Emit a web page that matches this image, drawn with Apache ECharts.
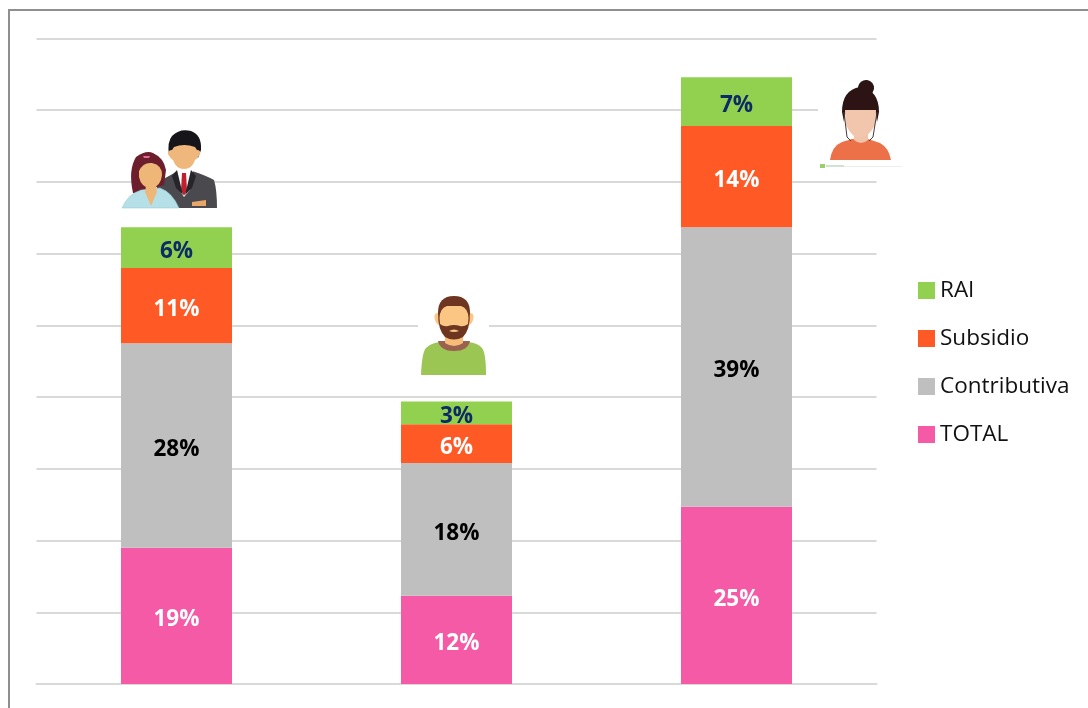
<!DOCTYPE html>
<html><head><meta charset="utf-8">
<style>html,body{margin:0;padding:0;background:#fff}#c{width:1088px;height:708px}</style>
<script src="https://cdn.jsdelivr.net/npm/echarts@6/dist/echarts.min.js"></script>
</head><body><div id="c"></div>
<script>
const categories = ['Total', 'Hombres', 'Mujeres'];
const totalValues = [19.0, 12.3, 24.7];
const contributivaValues = [28.5, 18.5, 39.0];
const subsidioValues = [10.5, 5.4, 14.1];
const raiValues = [5.7, 3.2, 6.8];
const totalLabels = ['19%', '12%', '25%'];
const contributivaLabels = ['28%', '18%', '39%'];
const subsidioLabels = ['11%', '6%', '14%'];
const raiLabels = ['6%', '3%', '7%'];
const FONT = '"Open Sans", sans-serif';

function mk(name, values, labels, color, labelColor) {
  return {
    name, type: 'bar', stack: 'a', data: values, barWidth: 111, color,
    label: {
      show: true, position: 'inside', offset: [0, 4],
      formatter: p => labels[p.dataIndex],
      color: labelColor, fontFamily: FONT, fontWeight: 'bold', fontSize: 22.5
    }
  };
}
const P = (d, fill, extra) => `<path d="${d}" fill="${fill}" ${extra || ''}/>`;
const R = (x, y, w, h, fill) => `<rect x="${x}" y="${y}" width="${w}" height="${h}" fill="${fill}"/>`;

const iconCouple = [
  // man
  P('M157 208 L157 182 Q170 176 177 171 L192 171 Q205 175 214 180 Q217 190 217 208 Z', '#4a4a4e'),
  P('M176 171 L193 171 L190 190 L184 197 L179 190 Z', '#ffffff'),
  P('M182 173 L186 173 L187 190 L184 196 L181 190 Z', '#c0202c'),
  P('M172 176 L177 170 L183 195 L176 188 Z', '#26262a'),
  P('M196 176 L191 170 L185 195 L192 188 Z', '#26262a'),
  P('M192 202 L206 200 L206 206 L192 206 Z', '#e8a66a'),
  P('M169 155 Q167 142 172 136 Q180 128 191 131 Q202 135 201 150 L198 158 L194 150 L175 150 L172 158 Z', '#15151a'),
  P('M168 154 Q168 150 172 150 L174 147 Q184 143 195 147 L197 150 Q201 150 200 154 Q198 158 195 160 Q192 169 184 169 Q176 169 173 160 Q170 158 168 154 Z', '#f0b77c'),
  // woman
  P('M133 193 Q128 170 136 157 Q146 150 153 153 Q164 158 166 170 L164 185 L146 190 L138 193 Z', '#6d1e2c'),
  P('M122 208 Q128 194 141 190 L160 188 Q172 192 179 208 Z', '#b6e0e8', 'stroke="#8fc4cf" stroke-width="0.5"'),
  P('M146 186 L156 186 L157 192 L151 206 L145 192 Z', '#eeb778'),
  P('M139 171 Q143 162 152 163 Q162 165 162 175 Q161 186 151 189 Q141 187 139 177 Z', '#eeb778'),
  P('M143 156 L150 156 L149 158 L144 158 Z', '#e26a9c')
];
const iconMan = [
  R(418, 296, 71, 80, '#ffffff'),
  P('M421 375 Q422 352 426 348 Q431 343 440 342 L468 342 Q478 343 482 348 Q486 353 486 375 Z', '#9bc653'),
  P('M438 341 L470 341 Q468 351 454 351 Q440 351 438 341 Z', '#9b6150'),
  P('M445 332 L463 332 L463 343 Q454 349 445 343 Z', '#f6bc78'),
  P('M438 313 Q433 313 435 320 Q437 326 440 325 Z', '#fbc583'),
  P('M470 313 Q475 313 473 320 Q471 326 468 325 Z', '#fbc583'),
  P('M438 313 Q438 296 454 296 Q470 296 470 313 Q470 330 463 337 Q454 342 445 337 Q438 330 438 313 Z', '#6e3520'),
  P('M439.5 318 Q440 308 447 306 L461 306 Q468 308 468.5 318 L468 324 Q464 327 460 326 Q454 324 448 326 Q444 327 440 324 Z', '#fbc583'),
  P('M449 331 Q454 328 459 331 Q454 333 449 331 Z', '#fbc583')
];
const iconWoman = [
  R(818, 78, 84, 94, '#ffffff'),
  P('M830 160 Q832 146 842 142 L852 139 L868 139 L880 143 Q889 148 891 160 Z', '#ec7148'),
  P('M854 128 L868 128 L868 140 Q861 146 854 140 Z', '#f0c4aa'),
  P('M858 87 A8 8 0 1 1 874 89 L872 94 L858 93 Z', '#2c1414'),
  P('M842 112 Q842 90 860 87 Q879 90 879 112 L877 122 L875 110 L846 110 L844 122 Z', '#2c1414'),
  P('M845 110 L876 110 L875 125 Q868 138 860 138 Q852 138 846 125 Z', '#f2c6ad'),
  P('M844 112 L847 137 L851 141', 'none', 'stroke="#4a3a36" stroke-width="1"'),
  P('M877 112 L873 137 L869 141', 'none', 'stroke="#4a3a36" stroke-width="1"'),
  R(820, 164, 5, 4, '#9ccf6a'), R(826, 165, 18, 2, '#cfe3d5'), R(844, 166, 58, 1, '#ededed')
];
const svg = '<svg xmlns="http://www.w3.org/2000/svg" width="1088" height="708" viewBox="0 0 1088 708">' +
  iconCouple.join('') + iconMan.join('') + iconWoman.join('') + '</svg>';

const chart = echarts.init(document.getElementById('c'), null, {renderer: 'canvas'});
chart.setOption({
  animation: false,
  backgroundColor: '#ffffff',
  grid: {left: 36.5, right: 211.5, top: 38.5, bottom: 24},
  xAxis: {
    type: 'category', data: categories,
    axisLine: {lineStyle: {color: '#d9d9d9', width: 2}},
    axisTick: {show: false}, axisLabel: {show: false}
  },
  yAxis: {
    type: 'value', min: 0, max: 90, interval: 10,
    axisLine: {show: false}, axisTick: {show: false}, axisLabel: {show: false},
    splitLine: {lineStyle: {color: '#d9d9d9', width: 2}}
  },
  legend: {
    orient: 'vertical', left: 913, top: 274,
    data: ['RAI', 'Subsidio', 'Contributiva', 'TOTAL'],
    itemWidth: 17, itemHeight: 17, itemGap: 25, icon: 'rect',
    textStyle: {fontFamily: FONT, fontSize: 22.5, lineHeight: 20, color: '#111111'}
  },
  series: [
    mk('TOTAL', totalValues, totalLabels, '#f45aa5', '#ffffff'),
    mk('Contributiva', contributivaValues, contributivaLabels, '#bfbfbf', '#000000'),
    mk('Subsidio', subsidioValues, subsidioLabels, '#ff5a26', '#ffffff'),
    mk('RAI', raiValues, raiLabels, '#92d050', '#0b2a66')
  ],
  graphic: [
    {type: 'rect', z: 20, shape: {x: 8, y: 9, width: 1080, height: 2}, style: {fill: '#8f8f8f'}},
    {type: 'rect', z: 20, shape: {x: 8, y: 9, width: 2, height: 699}, style: {fill: '#8f8f8f'}},
    {type: 'image', z: 9, left: 0, top: 0, style: {image: 'data:image/svg+xml;charset=utf-8,' + encodeURIComponent(svg), x: 0, y: 0, width: 1088, height: 708}}
  ]
});
</script></body></html>
